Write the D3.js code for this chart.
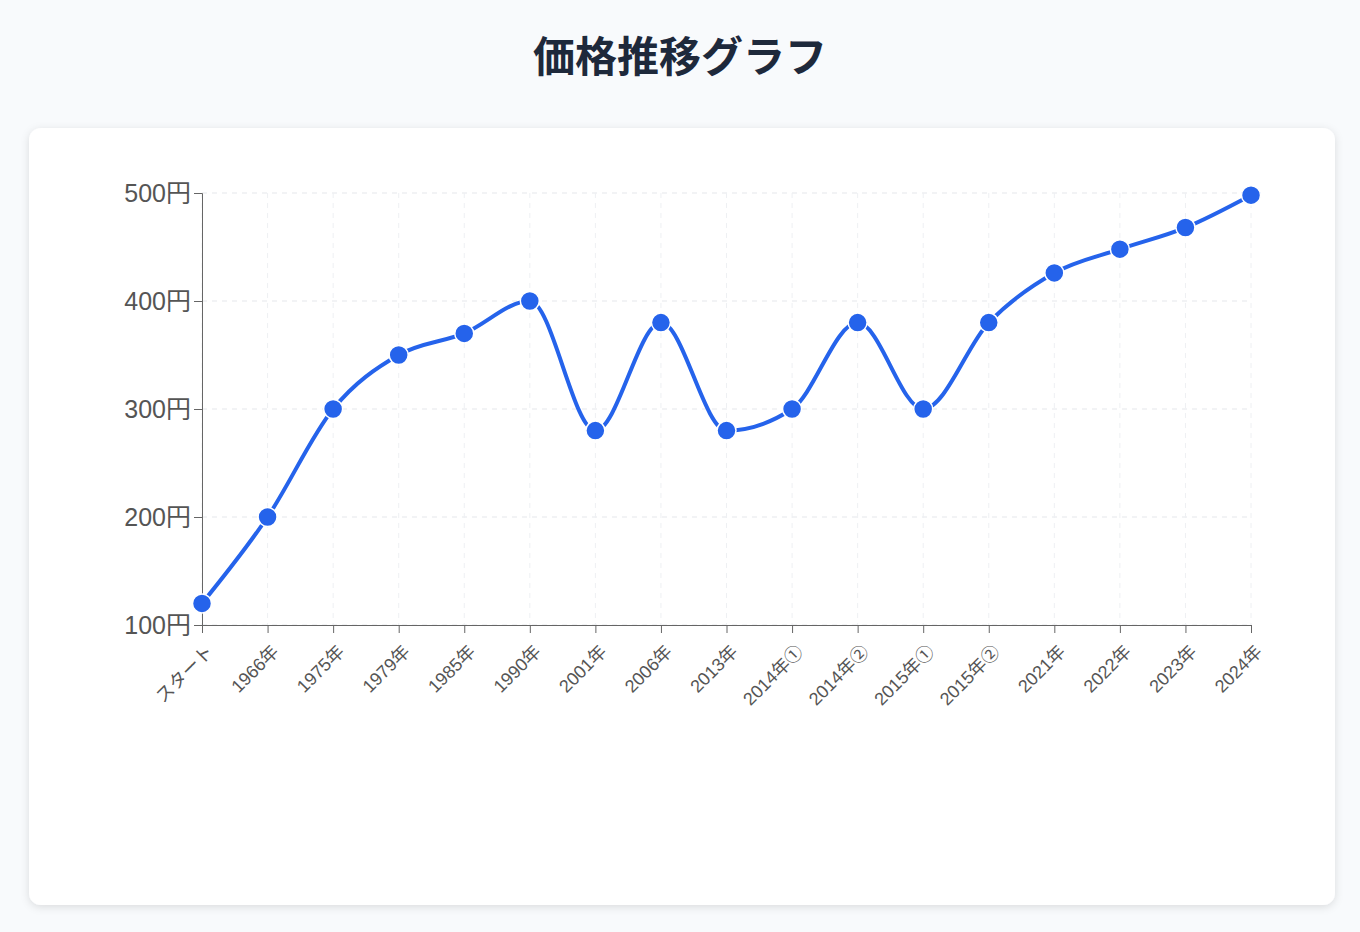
<!DOCTYPE html>
<html><head><meta charset="utf-8">
<script src="https://cdn.jsdelivr.net/npm/d3@7"></script>
<style>
body{margin:0;background:#f8fafc;font-family:"Noto Sans CJK JP","Noto Sans",sans-serif;}
</style></head><body>
<svg id="c" width="1360" height="932"></svg>
<script>
const categories=["スタート","1966年","1975年","1979年","1985年","1990年","2001年","2006年","2013年","2014年①","2014年②","2015年①","2015年②","2021年","2022年","2023年","2024年"];
const prices=[120,200,300,350,370,400,280,380,280,300,380,300,380,426,448,468,498];
const yTicks=[100,200,300,400,500];
const FONT='"Liberation Sans","Noto Sans CJK JP",sans-serif';

const svg=d3.select("#c");
const defs=svg.append("defs");
const f=defs.append("filter").attr("id","sh").attr("x","-5%").attr("y","-5%").attr("width","110%").attr("height","115%");
f.append("feDropShadow").attr("dx",0).attr("dy",2).attr("stdDeviation",4).attr("flood-color","#000").attr("flood-opacity",0.12);
svg.append("text").attr("x",680).attr("y",72).attr("text-anchor","middle").attr("font-size",42).attr("font-weight",700).attr("fill","#1e293b").text("価格推移グラフ");
svg.append("rect").attr("x",29).attr("y",128).attr("width",1306).attr("height",777).attr("rx",12).attr("fill","#fff").attr("filter","url(#sh)");

const x=d3.scalePoint().domain(categories).range([202,1251]);
const y=d3.scaleLinear().domain([100,500]).range([625,193]);
const g=svg.append("g");
g.selectAll(".gy").data(yTicks).join("line").attr("x1",202).attr("x2",1251).attr("y1",d=>y(d)).attr("y2",d=>y(d)).attr("stroke","#e5e7eb").attr("stroke-dasharray","5,5");
g.selectAll(".gx").data(categories).join("line").attr("x1",d=>x(d)).attr("x2",d=>x(d)).attr("y1",193).attr("y2",625).attr("stroke","#eef0f3").attr("stroke-dasharray","5,5");
const ya=g.append("g").attr("transform","translate(202,0)").call(d3.axisLeft(y).tickValues(yTicks).tickFormat(d=>d+"円").tickSize(8).tickPadding(3));
ya.select(".domain").attr("stroke","#666");ya.selectAll("line").attr("stroke","#666");
ya.selectAll("text").attr("font-size",25).attr("fill","#555").attr("font-family",FONT);
const xa=g.append("g").attr("transform","translate(0,625)").call(d3.axisBottom(x).tickSize(8));
xa.select(".domain").attr("stroke","#666");xa.selectAll("line").attr("stroke","#666");
xa.selectAll("text").attr("font-size",18).attr("fill","#555").attr("font-family",FONT)
 .attr("text-anchor","end").attr("dy","0").attr("transform","translate(4,20) rotate(-45)");
const line=d3.line().x((d,i)=>x(categories[i])).y(d=>y(d)).curve(d3.curveMonotoneX);
g.append("path").datum(prices).attr("d",line).attr("fill","none").attr("stroke","#2563eb").attr("stroke-width",4);
g.selectAll(".pt").data(prices).join("circle").attr("cx",(d,i)=>x(categories[i])).attr("cy",d=>y(d)).attr("r",9.5).attr("fill","#2563eb").attr("stroke","#fff").attr("stroke-width",1.5);
</script></body></html>
